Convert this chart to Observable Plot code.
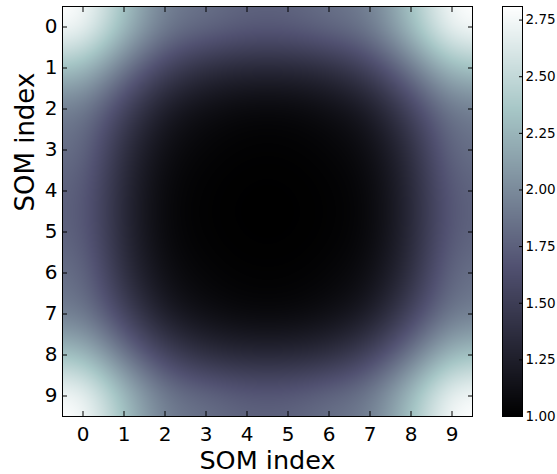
<!DOCTYPE html>
<html>
<head>
<meta charset="utf-8">
<script src="https://cdn.jsdelivr.net/npm/d3@7"></script>
<script src="https://cdn.jsdelivr.net/npm/@observablehq/plot@0.6"></script>
<style>
  body { margin: 0; background: #ffffff; }
  #chart { position: relative; width: 557px; height: 474px; }
  #chart svg { position: absolute; left: 0; top: 0; }
</style>
</head>
<body>
<div id="chart"></div>
<script>
// ---- data ----
const xTicks = [0, 1, 2, 3, 4, 5, 6, 7, 8, 9];
const yTicks = [0, 1, 2, 3, 4, 5, 6, 7, 8, 9];
const cbTicks = [1.00, 1.25, 1.50, 1.75, 2.00, 2.25, 2.50, 2.75];
const vmin = 1.00;
const vmax = 2.81;

const row0 = [2.81, 2.32, 1.91, 1.84, 1.76, 1.76, 1.84, 1.91, 2.32, 2.81];
const row1 = [2.32, 1.88, 1.54, 1.36, 1.31, 1.31, 1.36, 1.54, 1.88, 2.32];
const row2 = [1.91, 1.54, 1.20, 1.10, 1.05, 1.05, 1.10, 1.20, 1.54, 1.91];
const row3 = [1.84, 1.36, 1.10, 1.03, 1.01, 1.01, 1.03, 1.10, 1.36, 1.84];
const row4 = [1.76, 1.31, 1.05, 1.01, 1.00, 1.00, 1.01, 1.05, 1.31, 1.76];
const row5 = [1.76, 1.31, 1.05, 1.01, 1.00, 1.00, 1.01, 1.05, 1.31, 1.76];
const row6 = [1.84, 1.36, 1.10, 1.03, 1.01, 1.01, 1.03, 1.10, 1.36, 1.84];
const row7 = [1.91, 1.54, 1.20, 1.10, 1.05, 1.05, 1.10, 1.20, 1.54, 1.91];
const row8 = [2.32, 1.88, 1.54, 1.36, 1.31, 1.31, 1.36, 1.54, 1.88, 2.32];
const row9 = [2.81, 2.32, 1.91, 1.84, 1.76, 1.76, 1.84, 1.91, 2.32, 2.81];

const rows = [row0, row1, row2, row3, row4, row5, row6, row7, row8, row9];
const cells = rows.flatMap((r, j) => r.map((v, i) => ({col: xTicks[i], row: yTicks[j], value: v})));

// matplotlib "bone" colormap
const bone = d3.scaleLinear()
  .domain([0, 0.365079, 0.746032, 1])
  .range(["#000000", "#515171", "#a6c6c6", "#ffffff"])
  .interpolate(d3.interpolateRgb)
  .clamp(true);

// image resampling like matplotlib's "bicubic" (Agg cubic B-spline filter, edge-clone)
function bsplineResample(index, w, h, X, Y, V) {
  const xs = Array.from(new Set(Array.from(index, (i) => X[i]))).sort((a, b) => a - b);
  const ys = Array.from(new Set(Array.from(index, (i) => Y[i]))).sort((a, b) => a - b);
  const nx = xs.length, ny = ys.length;
  const grid = new Float64Array(nx * ny);
  for (const i of index) grid[ys.indexOf(Y[i]) * nx + xs.indexOf(X[i])] = V[i];
  const sx = (xs[nx - 1] - xs[0]) / (nx - 1);
  const sy = (ys[ny - 1] - ys[0]) / (ny - 1);
  const kern = (t) => {
    t = Math.abs(t);
    if (t < 1) return (4 - 6 * t * t + 3 * t * t * t) / 6;
    if (t < 2) { const u = 2 - t; return (u * u * u) / 6; }
    return 0;
  };
  const out = new Float64Array(w * h);
  for (let py = 0; py < h; py++) {
    const gy = (py + 0.5 - ys[0]) / sy;
    const r0 = Math.floor(gy);
    for (let px = 0; px < w; px++) {
      const gx = (px + 0.5 - xs[0]) / sx;
      const c0 = Math.floor(gx);
      let s = 0, ws = 0;
      for (let n = -1; n <= 2; n++) {
        const r = Math.min(ny - 1, Math.max(0, r0 + n));
        const wy = kern(gy - (r0 + n));
        for (let m = -1; m <= 2; m++) {
          const c = Math.min(nx - 1, Math.max(0, c0 + m));
          const wt = wy * kern(gx - (c0 + m));
          s += wt * grid[r * nx + c];
          ws += wt;
        }
      }
      out[py * w + px] = s / ws;
    }
  }
  return out;
}

const colorScale = {type: "linear", domain: [vmin, vmax], interpolate: (t) => bone(t)};
const font = "DejaVu Sans";

const main = Plot.plot({
  width: 557,
  height: 474,
  marginLeft: 62,
  marginRight: 85,
  marginTop: 6,
  marginBottom: 58,
  style: {fontFamily: font, background: "#ffffff", color: "#000000", overflow: "visible"},
  x: {domain: [-0.5, 9.5], label: null},
  y: {domain: [-0.5, 9.5], reverse: true, label: null},
  color: colorScale,
  marks: [
    Plot.raster(cells, {
      x: "col", y: "row", fill: "value",
      x1: -0.5, x2: 9.5, y1: -0.5, y2: 9.5,
      pixelSize: 1,
      interpolate: bsplineResample
    }),
    Plot.frame({stroke: "#000000", strokeWidth: 1}),
    Plot.axisX(xTicks, {anchor: "bottom", tickSize: -5, tickFormat: () => "", label: null}),
    Plot.axisX(xTicks, {anchor: "top", tickSize: -5, tickFormat: () => "", label: null}),
    Plot.axisY(yTicks, {anchor: "left", tickSize: -5, tickFormat: () => "", label: null}),
    Plot.axisY(yTicks, {anchor: "right", tickSize: -5, tickFormat: () => "", label: null}),
    Plot.axisX(xTicks, {anchor: "bottom", tickSize: 0, tickPadding: 10, fontSize: 20, label: null}),
    Plot.axisY(yTicks, {anchor: "left", tickSize: 0, tickPadding: 5, fontSize: 20, label: null}),
    Plot.text(["SOM index"], {frameAnchor: "bottom", dy: 52, fontSize: 25.5, lineAnchor: "bottom"}),
    Plot.text(["SOM index"], {frameAnchor: "left", dx: -29, rotate: -90, fontSize: 26, lineAnchor: "bottom"})
  ]
});

const bar = Plot.plot({
  width: 557,
  height: 474,
  marginLeft: 502,
  marginRight: 35,
  marginTop: 6,
  marginBottom: 58,
  style: {fontFamily: font, background: "transparent", color: "#000000", overflow: "visible"},
  x: {domain: [0, 1], axis: null},
  y: {domain: [vmin, vmax], axis: null},
  color: colorScale,
  marks: [
    Plot.raster({fill: (x, y) => y, x1: 0, x2: 1, y1: vmin, y2: vmax}),
    Plot.frame({stroke: "#000000", strokeWidth: 1}),
    Plot.axisY(cbTicks, {anchor: "right", tickSize: -4, tickFormat: () => "", label: null}),
    Plot.axisY(cbTicks, {anchor: "right", tickSize: 0, tickPadding: 3, fontSize: 13.5, tickFormat: d3.format(".2f"), label: null})
  ]
});

const chart = document.getElementById("chart");
chart.appendChild(main);
chart.appendChild(bar);
</script>
</body>
</html>
